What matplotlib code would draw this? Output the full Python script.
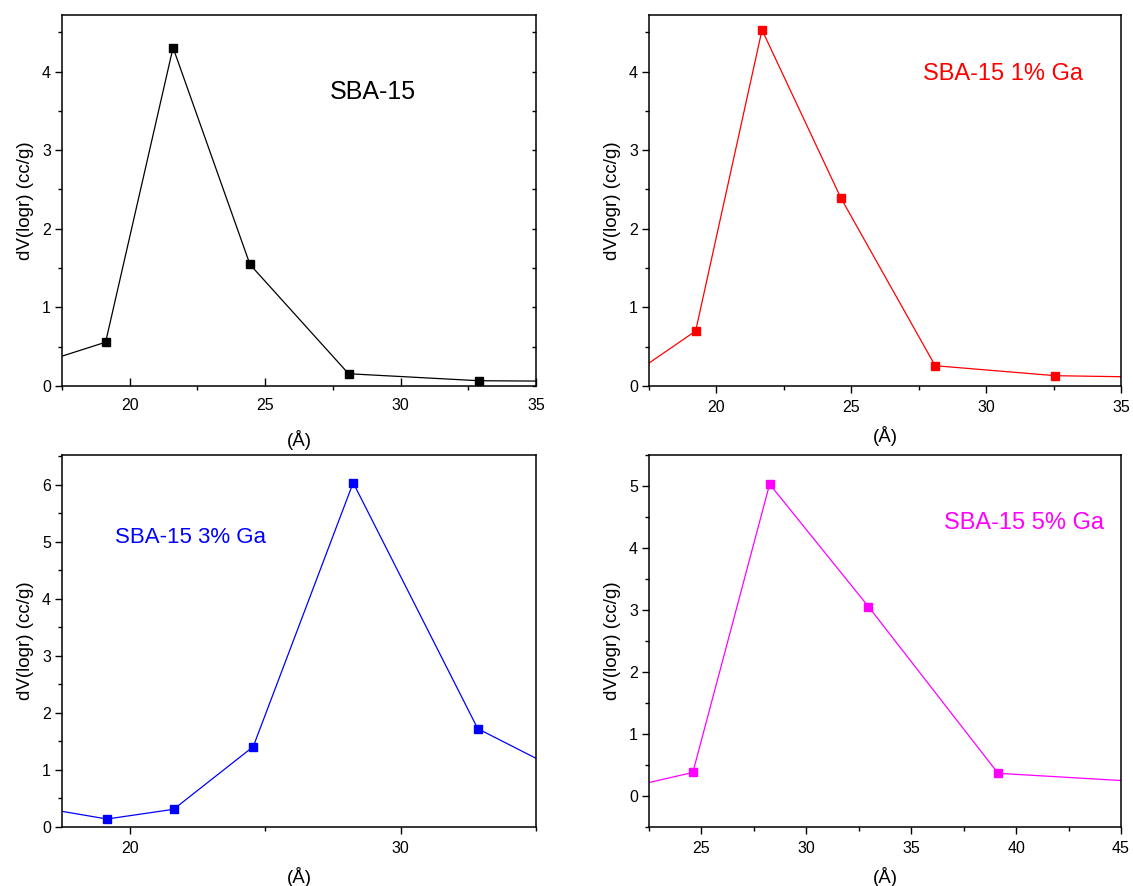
import matplotlib
matplotlib.use("Agg")
import matplotlib.pyplot as plt
from matplotlib.ticker import MultipleLocator

plt.rcParams['font.family'] = ['Liberation Sans', 'DejaVu Sans']

# ---- data (pore diameter in Å, dV(logr) in cc/g) ----
x_sba15 = [17.0, 19.11, 21.6, 24.44, 28.08, 32.9, 39.0]
y_sba15 = [0.325, 0.557, 4.305, 1.546, 0.156, 0.067, 0.055]

x_ga1 = [16.9, 19.23, 21.69, 24.61, 28.11, 32.57, 38.5]
y_ga1 = [0.15, 0.70, 4.53, 2.395, 0.258, 0.131, 0.10]

x_ga3 = [17.0, 19.16, 21.62, 24.56, 28.25, 32.85, 38.0]
y_ga3 = [0.315, 0.14, 0.31, 1.408, 6.034, 1.723, 0.48]

x_ga5 = [21.5, 24.59, 28.25, 32.96, 39.14, 47.0]
y_ga5 = [0.14, 0.38, 5.03, 3.055, 0.366, 0.21]

labels = ["SBA-15", "SBA-15 1% Ga", "SBA-15 3% Ga", "SBA-15 5% Ga"]
colors = ["#000000", "#FF0000", "#0000FF", "#FF00FF"]

fig = plt.figure(figsize=(11.33, 8.86), dpi=100)

W, H = 1133, 886
def axes_px(l, r, t, b):
    return fig.add_axes([l / W, 1 - b / H, (r - l) / W, (b - t) / H])

ax_tl = axes_px(62, 536, 15, 386)
ax_tr = axes_px(649, 1121, 15, 386)
ax_bl = axes_px(62, 536, 455, 827)
ax_br = axes_px(649, 1121, 455, 827)

panels = [
    (ax_tl, x_sba15, y_sba15, (17.5, 35), (0, 4.72), 5, 2.5, 1, 0.5, (0.565, 0.792), 18),
    (ax_tr, x_ga1, y_ga1, (17.5, 35), (0, 4.72), 5, 2.5, 1, 0.5, (0.581, 0.841), 17),
    (ax_bl, x_ga3, y_ga3, (17.5, 35), (0, 6.52), 10, 5, 1, 0.5, (0.112, 0.777), 16),
    (ax_br, x_ga5, y_ga5, (22.5, 45), (-0.5, 5.5), 5, 2.5, 1, 0.5, (0.625, 0.817), 17),
]

for i, (ax, xs, ys, xl, yl, xmaj, xmin, ymaj, ymin, tpos, tfs) in enumerate(panels):
    c = colors[i]
    ax.plot(xs, ys, color=c, lw=0.9, marker='s', ms=5.5, mec=c, mfc=c, clip_on=True)
    ax.set_xlim(*xl)
    ax.set_ylim(*yl)
    ax.xaxis.set_major_locator(MultipleLocator(xmaj))
    ax.xaxis.set_minor_locator(MultipleLocator(xmin))
    ax.yaxis.set_major_locator(MultipleLocator(ymaj))
    ax.yaxis.set_minor_locator(MultipleLocator(ymin))
    for sp in ax.spines.values():
        sp.set_linewidth(1.1)
    ax.tick_params(axis='both', which='major', direction='out', length=5, width=1.0,
                   labelsize=11.5, pad=3, top=False, right=False)
    ax.tick_params(axis='x', which='major', pad=5)
    ax.tick_params(axis='both', which='minor', direction='out', length=3, width=1.0,
                   top=False, right=False)
    ax.set_xlabel("(Å)", fontsize=13.5, labelpad=8)
    ax.set_ylabel("dV(logr) (cc/g)", fontsize=13.5, labelpad=6)
    ax.text(tpos[0], tpos[1], labels[i], transform=ax.transAxes, color=c,
            fontsize=tfs, ha='left', va='center')

# top-left panel: inward major x ticks and inward right-side ticks
ax_tl.tick_params(axis='x', which='major', direction='in', length=6, pad=9)
ax_tl.set_xlabel("(Å)", fontsize=13.5, labelpad=12)
ax_tl.tick_params(axis='y', which='both', right=True)
for t in ax_tl.yaxis.get_major_ticks() + ax_tl.yaxis.get_minor_ticks():
    t.tick2line.set_marker(matplotlib.lines.TICKLEFT)
    t.tick2line.set_markersize(3)

fig.savefig("out.png", dpi=100)
